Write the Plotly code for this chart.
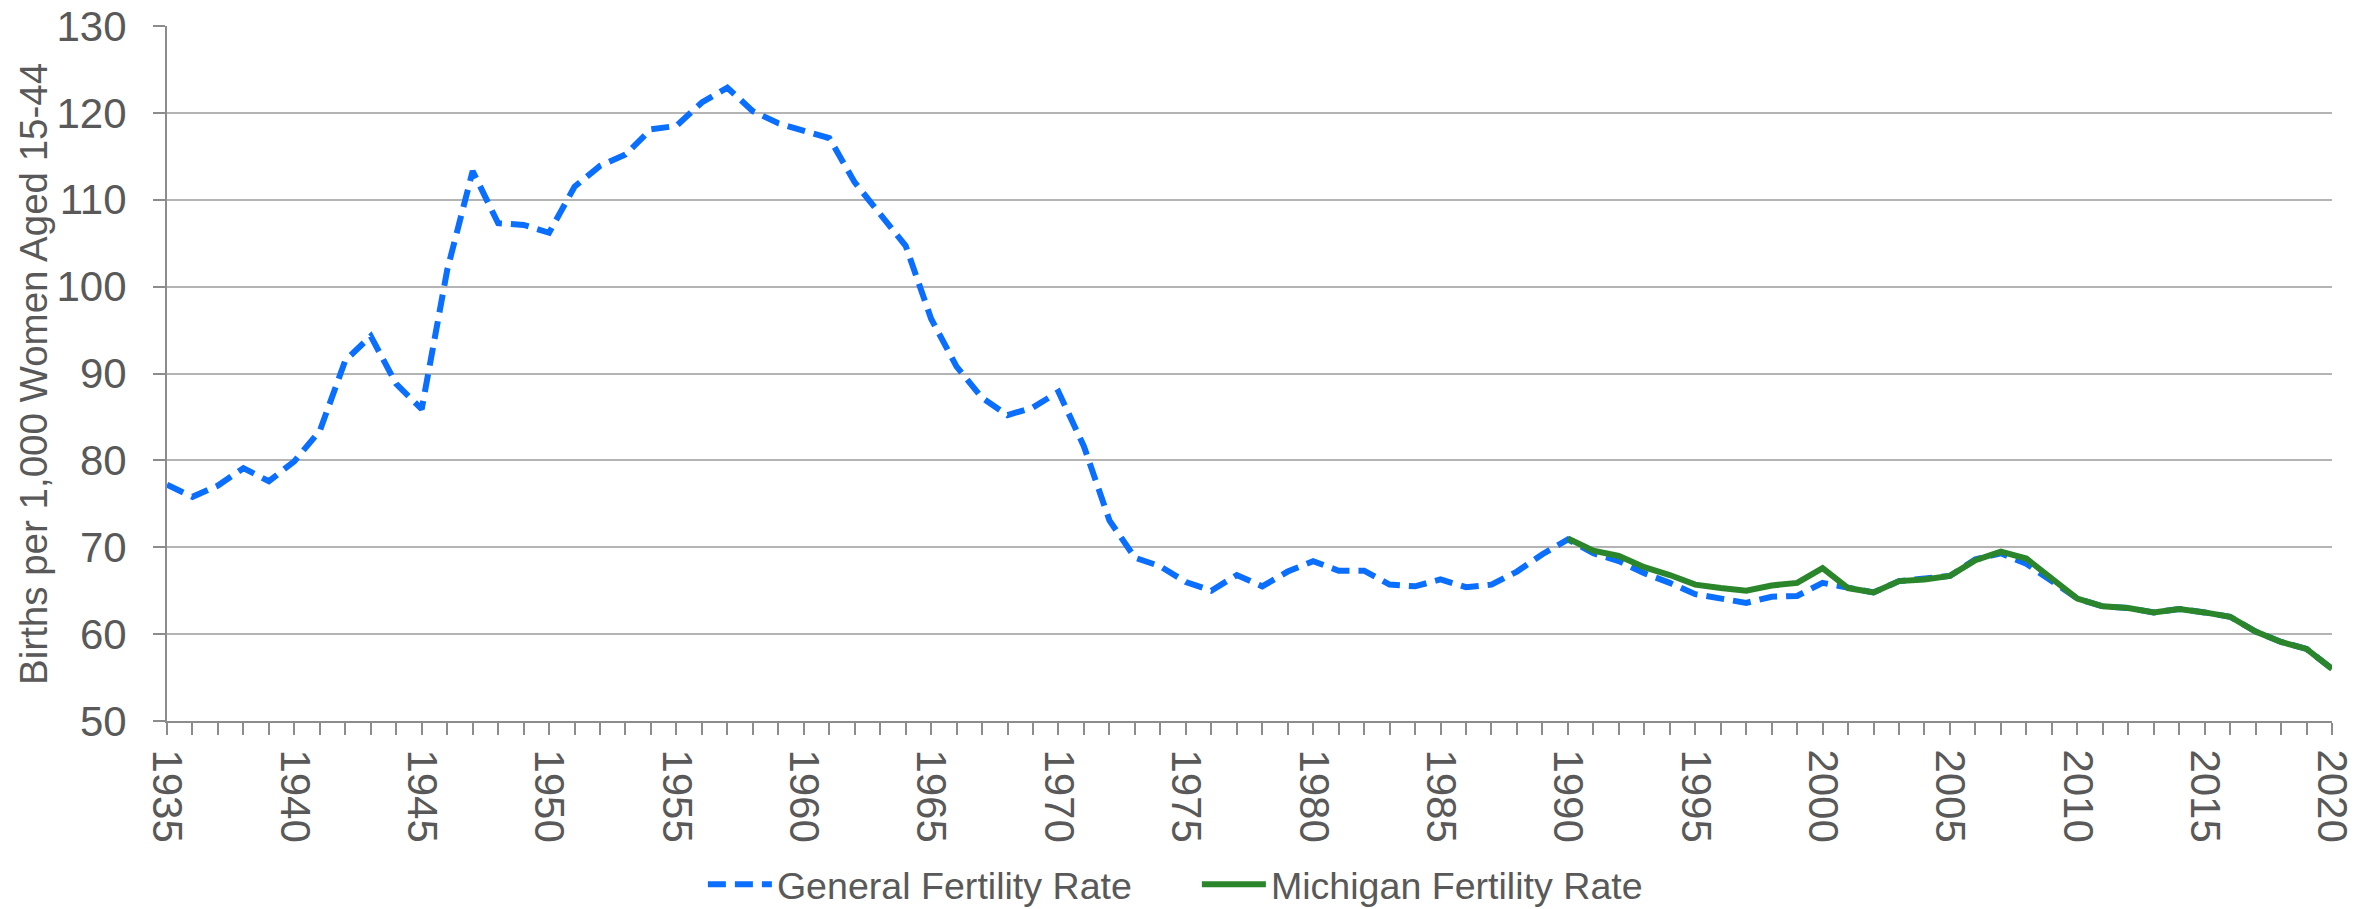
import plotly.graph_objects as go

years_general = list(range(1935, 2021))
general_rate = [
    77.2, 75.8, 77.1, 79.1, 77.6,
    79.9, 83.4, 91.5, 94.3, 88.8,
    85.9, 101.9, 113.3, 107.3, 107.1,
    106.2, 111.5, 113.9, 115.2, 118.1,
    118.5, 121.2, 122.9, 120.2, 118.8,
    118.0, 117.1, 112.0, 108.3, 104.7,
    96.3, 90.8, 87.2, 85.2, 86.1,
    87.9, 81.6, 73.1, 68.8, 67.8,
    66.0, 65.0, 66.8, 65.5, 67.2,
    68.4, 67.3, 67.3, 65.7, 65.5,
    66.3, 65.4, 65.7, 67.2, 69.2,
    70.9, 69.3, 68.4, 67.0, 65.9,
    64.6, 64.1, 63.6, 64.3, 64.4,
    65.9, 65.3, 64.8, 66.1, 66.4,
    66.7, 68.6, 69.3, 68.1, 66.2,
    64.1, 63.2, 63.0, 62.5, 62.9,
    62.5, 62.0, 60.3, 59.1, 58.3,
    56.0,
]

years_michigan = list(range(1990, 2021))
michigan_rate = [
    71.0, 69.6, 69.0, 67.7, 66.8,
    65.7, 65.3, 65.0, 65.6, 65.9,
    67.6, 65.3, 64.8, 66.1, 66.3,
    66.7, 68.5, 69.5, 68.7, 66.3,
    64.1, 63.2, 63.0, 62.5, 62.9,
    62.5, 62.0, 60.3, 59.1, 58.3,
    56.0,
]

series_names = ["General Fertility Rate", "Michigan Fertility Rate"]
y_title = "Births per 1,000 Women Aged 15-44"
y_ticks = [50, 60, 70, 80, 90, 100, 110, 120, 130]
x_ticks = list(range(1935, 2021, 5))
x_ticktext = [str(y) for y in x_ticks]

TEXT = "#595959"
FONT = "Liberation Sans"
AXIS = "#8C8C8C"

fig = go.Figure()
fig.add_trace(go.Scatter(
    x=years_general, y=general_rate, mode="lines", name=series_names[0],
    line=dict(color="#0A6EFF", width=6, dash="18px,9px"),
))
fig.add_trace(go.Scatter(
    x=years_michigan, y=michigan_rate, mode="lines", name=series_names[1],
    line=dict(color="#2B862B", width=6),
))

fig.update_layout(
    width=2374, height=909,
    margin=dict(l=166.5, r=42.4, t=25.7, b=188.3, autoexpand=False),
    paper_bgcolor="white", plot_bgcolor="white",
    font=dict(family=FONT, color=TEXT, size=36),
    showlegend=True,
    legend=dict(
        orientation="h", x=0.4757, xanchor="center", y=-0.235, yanchor="middle",
        font=dict(family=FONT, size=37.6, color=TEXT),
        itemwidth=64, entrywidth=415, entrywidthmode="pixels",
        traceorder="normal",
        bgcolor="rgba(0,0,0,0)",
    ),
    annotations=[dict(
        text=y_title, textangle=-90, xref="paper", yref="paper",
        x=-0.0617, y=0.5, xanchor="center", yanchor="middle", showarrow=False,
        font=dict(family=FONT, size=38.5, color=TEXT),
    )],
)

fig.update_xaxes(
    range=[1935, 2020],
    tickmode="array", tickvals=x_ticks, ticktext=x_ticktext,
    tickangle=90,
    ticks="outside", ticklen=12, tickwidth=2, tickcolor=AXIS,
    minor=dict(dtick=1, tick0=1935, ticks="outside", ticklen=12, tickwidth=2,
               tickcolor=AXIS, showgrid=False),
    showline=True, linecolor=AXIS, linewidth=2,
    showgrid=False, zeroline=False,
    tickfont=dict(family=FONT, size=42, color=TEXT),
    ticklabelstandoff=6,
)

fig.update_yaxes(
    range=[50, 130], tickmode="array", tickvals=y_ticks,
    ticks="outside", ticklen=12, tickwidth=2, tickcolor=AXIS,
    showline=True, linecolor=AXIS, linewidth=2,
    showgrid=True, gridcolor="#B4B4B4", gridwidth=2,
    zeroline=False,
    tickfont=dict(family=FONT, size=42, color=TEXT),
    ticklabelstandoff=18, ticklabeloverflow="allow",
)

fig.write_html(
    "out.html",
    config={"displayModeBar": False},
    post_script="document.body.style.margin='0';document.body.style.overflow='hidden';",
)
